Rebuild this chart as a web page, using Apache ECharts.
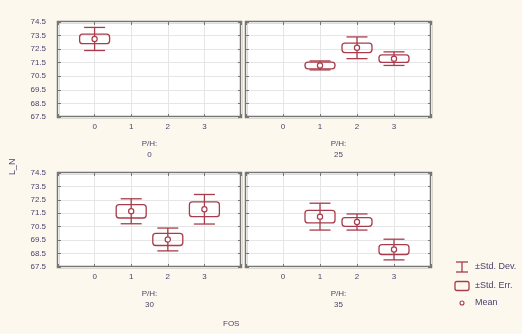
<!DOCTYPE html>
<html><head><meta charset="utf-8">
<script src="https://cdn.jsdelivr.net/npm/echarts@6/dist/echarts.min.js"></script>
<style>html,body{margin:0;padding:0;background:#fdf8ee}#c{width:522px;height:334px}</style>
</head><body><div id="c"></div><script>
// ---- data ----
const xCats = [0, 1, 2, 3];
const phLevels = ['0', '25', '30', '35'];
// mean per panel (P/H level) per x category; null = no data
const means = [
  [73.25, null, null, null],
  [null, 71.3, 72.6, 71.8],
  [null, 71.65, 69.55, 71.8],
  [null, 71.25, 70.85, 68.8]
];
const stdErr = [
  [0.35, null, null, null],
  [null, 0.25, 0.35, 0.28],
  [null, 0.5, 0.45, 0.55],
  [null, 0.47, 0.32, 0.37]
];
const stdDev = [
  [0.85, null, null, null],
  [null, 0.33, 0.8, 0.5],
  [null, 0.93, 0.85, 1.1],
  [null, 1.0, 0.6, 0.77]
];
const yMin = 67.5, yMax = 74.5, yStep = 1;
const legendLabels = ['\u00b1Std. Dev.', '\u00b1Std. Err.', 'Mean'];
const yTitle = 'L_N';
const xTitle = 'FOS';
const panelLabel = 'P/H:';

// ---- layout/style ----
const markColor = '#a83c4c';
const textColor = '#4b3f6b';
const font = 'Liberation Sans, Arial, sans-serif';
const grids = [
  {left: 58, top: 22, width: 183, height: 95},
  {left: 246, top: 22, width: 185, height: 95},
  {left: 58, top: 173, width: 183, height: 94},
  {left: 246, top: 173, width: 185, height: 94}
];

const chart = echarts.init(document.getElementById('c'));

const option = {
  backgroundColor: '#fdf8ee',
  animation: false,
  grid: grids.map(g => Object.assign({show: true, backgroundColor: '#ffffff', borderColor: '#757575', borderWidth: 2.5}, g)),
  xAxis: [], yAxis: [], series: [], graphic: []
};

grids.forEach((g, i) => {
  const tick = {show: true, inside: true, length: 3, lineStyle: {color: '#777'}};
  const line = {show: false, onZero: false};
  option.xAxis.push({
    type: 'value', gridIndex: i, min: -1, max: 4, interval: 1, position: 'bottom',
    axisLine: line, axisTick: tick,
    splitLine: {show: true, lineStyle: {color: '#e6e6e6', width: 1}},
    axisLabel: {
      color: textColor, fontSize: 8, fontFamily: font, margin: 6,
      formatter: v => (xCats.indexOf(v) >= 0 ? String(v) : '')
    },
    name: panelLabel + '\n' + phLevels[i], nameLocation: 'middle', nameGap: 21,
    nameTextStyle: {color: textColor, fontSize: 8, fontFamily: font, lineHeight: 11}
  });
  option.xAxis.push({
    type: 'value', gridIndex: i, min: -1, max: 4, interval: 1, position: 'top',
    axisLine: line, axisTick: tick, splitLine: {show: false}, axisLabel: {show: false}
  });
  option.yAxis.push({
    type: 'value', gridIndex: i, min: yMin, max: yMax, interval: yStep, position: 'left',
    axisLine: line, axisTick: tick,
    splitLine: {show: true, lineStyle: {color: '#e6e6e6', width: 1}},
    axisLabel: {show: i % 2 === 0, color: textColor, fontSize: 8, fontFamily: font, margin: 12,
      formatter: v => v.toFixed(1)}
  });
  option.yAxis.push({
    type: 'value', gridIndex: i, min: yMin, max: yMax, interval: yStep, position: 'right',
    axisLine: line, axisTick: tick, splitLine: {show: false}, axisLabel: {show: false}
  });
  const rows = [];
  xCats.forEach((x, k) => {
    if (means[i][k] != null) rows.push([x, means[i][k], stdErr[i][k], stdDev[i][k]]);
  });
  option.series.push({
    type: 'custom', xAxisIndex: 2 * i, yAxisIndex: 2 * i, data: rows, clip: false,
    renderItem: (params, api) => {
      const x = api.value(0), m = api.value(1), se = api.value(2), sd = api.value(3);
      const pm = api.coord([x, m]);
      const pSdHi = api.coord([x, m + sd]), pSdLo = api.coord([x, m - sd]);
      const pSeHi = api.coord([x, m + se]), pSeLo = api.coord([x, m - se]);
      const cx = pm[0], capW = 21, boxW = 30;
      const st = {stroke: markColor, lineWidth: 1.3, fill: null};
      return {type: 'group', children: [
        {type: 'line', shape: {x1: cx, y1: pSdHi[1], x2: cx, y2: pSdLo[1]}, style: st},
        {type: 'line', shape: {x1: cx - capW / 2, y1: pSdHi[1], x2: cx + capW / 2, y2: pSdHi[1]}, style: st},
        {type: 'line', shape: {x1: cx - capW / 2, y1: pSdLo[1], x2: cx + capW / 2, y2: pSdLo[1]}, style: st},
        {type: 'rect', shape: {x: cx - boxW / 2, y: pSeHi[1], width: boxW, height: pSeLo[1] - pSeHi[1], r: 3}, style: st},
        {type: 'circle', shape: {cx: cx, cy: pm[1], r: 2.6}, style: {stroke: markColor, lineWidth: 1.2, fill: '#ffffff'}}
      ]};
    }
  });
});

// axis titles
option.graphic.push({type: 'text', x: 8, y: 175, rotation: Math.PI / 2,
  style: {text: yTitle, fill: textColor, font: '9px ' + font}});
option.graphic.push({type: 'text', left: 223, top: 320,
  style: {text: xTitle, fill: textColor, font: '8px ' + font}});

// legend
const lx = 462, ly = [267, 286, 303];
const lst = {stroke: markColor, lineWidth: 1.3, fill: null};
option.graphic.push(
  {type: 'line', shape: {x1: lx, y1: ly[0] - 5, x2: lx, y2: ly[0] + 5}, style: lst},
  {type: 'line', shape: {x1: lx - 6, y1: ly[0] - 5, x2: lx + 6, y2: ly[0] - 5}, style: lst},
  {type: 'line', shape: {x1: lx - 6, y1: ly[0] + 5, x2: lx + 6, y2: ly[0] + 5}, style: lst},
  {type: 'rect', shape: {x: lx - 7, y: ly[1] - 4.5, width: 14, height: 9, r: 2}, style: lst},
  {type: 'circle', shape: {cx: lx, cy: ly[2], r: 2}, style: {stroke: markColor, lineWidth: 1.1, fill: '#fff'}}
);
legendLabels.forEach((t, k) => {
  option.graphic.push({type: 'text', left: 475, top: ly[k] - 5,
    style: {text: t, fill: textColor, font: '9px ' + font}});
});

chart.setOption(option);
</script></body></html>
